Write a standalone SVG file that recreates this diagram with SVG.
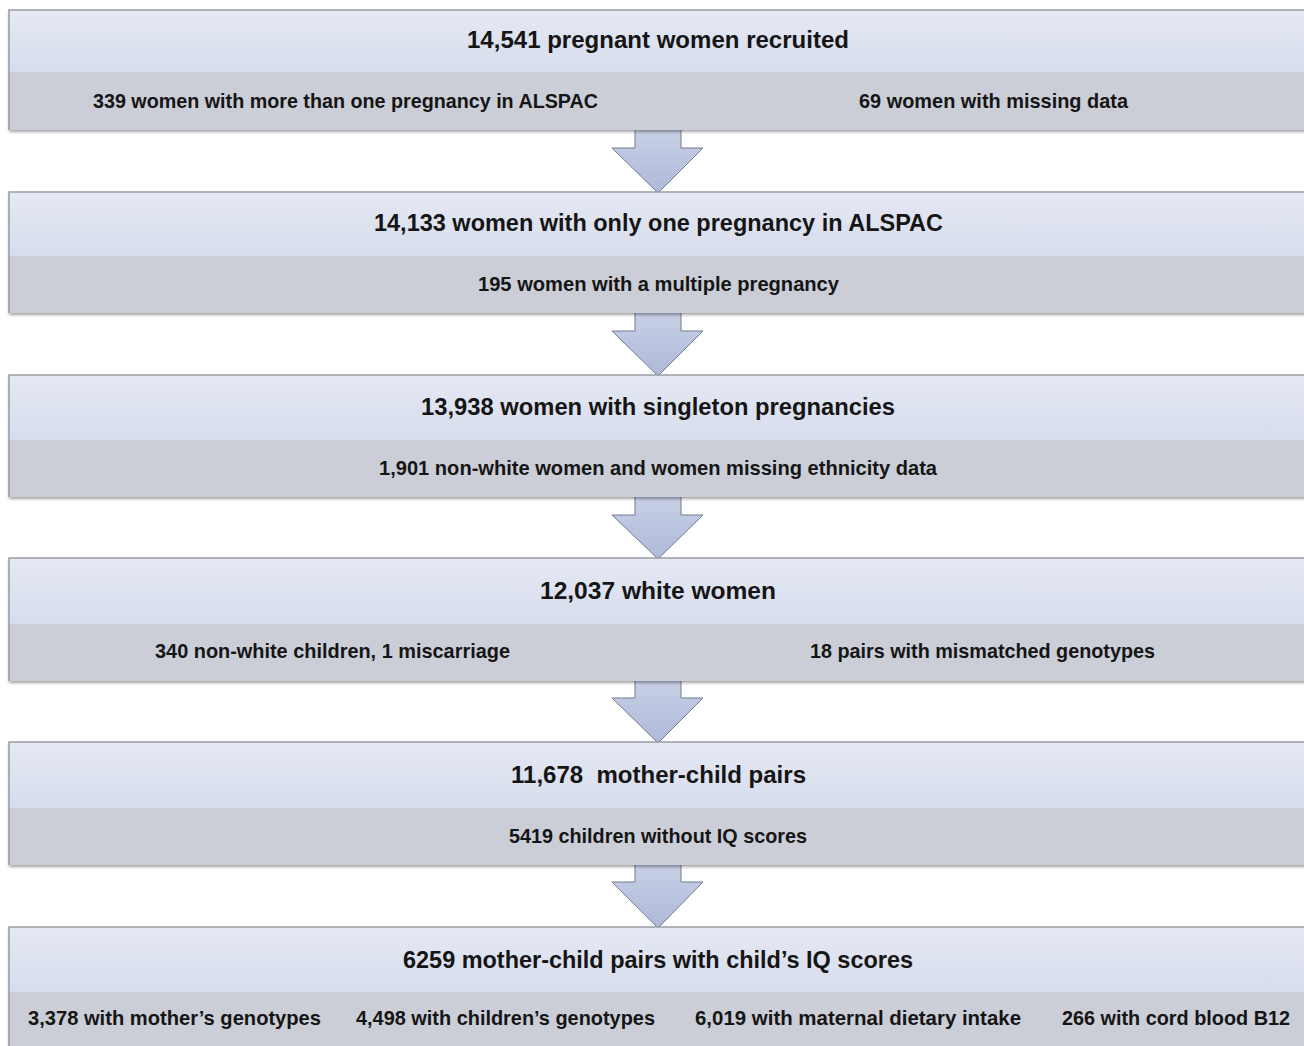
<svg xmlns="http://www.w3.org/2000/svg" width="1304" height="1046" viewBox="0 0 1304 1046">
<defs>
<linearGradient id="topg" x1="0" y1="0" x2="0" y2="1">
<stop offset="0" stop-color="#e5e9f3"/>
<stop offset="1" stop-color="#d7dced"/>
</linearGradient>
<linearGradient id="arrg" x1="0" y1="0" x2="0" y2="1">
<stop offset="0" stop-color="#c9d1e7"/>
<stop offset="1" stop-color="#aeb9d8"/>
</linearGradient>
<filter id="sh" x="-5%" y="-10%" width="110%" height="130%">
<feDropShadow dx="0" dy="2" stdDeviation="1.6" flood-color="#000" flood-opacity="0.35"/>
</filter>
</defs>
<style>
.top{fill:url(#topg);}
.bot{fill:#cbced7;}
.frame{fill:none;stroke:#9a9ca3;stroke-width:1.5;}
.arr{fill:url(#arrg);stroke:#737b90;stroke-width:1;}
text{font-family:"Liberation Sans",Arial,sans-serif;font-weight:bold;fill:#151515;}
.t{font-size:23.5px;}
.s{font-size:20.5px;}
</style>
<rect width="1304" height="1046" fill="#ffffff"/>
<g id="connectors">
<polygon class="arr" points="635,128 681,128 681,148 703,148 658,193 612,148 635,148"/>
<polygon class="arr" points="635,311 681,311 681,331 703,331 658,376 612,331 635,331"/>
<polygon class="arr" points="635,495 681,495 681,515 703,515 658,559 612,515 635,515"/>
<polygon class="arr" points="635,679 681,679 681,698 703,698 658,743 612,698 635,698"/>
<polygon class="arr" points="635,863 681,863 681,882 703,882 658,928 612,882 635,882"/>
</g>
<g id="box1">
<g filter="url(#sh)"><rect class="top" x="9" y="10" width="1305" height="62"/><rect class="bot" x="9" y="72" width="1305" height="58"/></g>
<path class="frame" d="M1310,10 H9 V130"/>
<text class="t" x="467" y="48" textLength="382" lengthAdjust="spacingAndGlyphs">14,541 pregnant women recruited</text>
<text class="s" x="93" y="108" textLength="505" lengthAdjust="spacingAndGlyphs">339 women with more than one pregnancy in ALSPAC</text>
<text class="s" x="859" y="108" textLength="269" lengthAdjust="spacingAndGlyphs">69 women with missing data</text>
</g>
<g id="box2">
<g filter="url(#sh)"><rect class="top" x="9" y="192" width="1305" height="64"/><rect class="bot" x="9" y="256" width="1305" height="57"/></g>
<path class="frame" d="M1310,192 H9 V313"/>
<text class="t" x="374" y="231" textLength="569" lengthAdjust="spacingAndGlyphs">14,133 women with only one pregnancy in ALSPAC</text>
<text class="s" x="478" y="291" textLength="361" lengthAdjust="spacingAndGlyphs">195 women with a multiple pregnancy</text>
</g>
<g id="box3">
<g filter="url(#sh)"><rect class="top" x="9" y="375" width="1305" height="65"/><rect class="bot" x="9" y="440" width="1305" height="57"/></g>
<path class="frame" d="M1310,375 H9 V497"/>
<text class="t" x="421" y="415" textLength="474" lengthAdjust="spacingAndGlyphs">13,938 women with singleton pregnancies</text>
<text class="s" x="379" y="475" textLength="558" lengthAdjust="spacingAndGlyphs">1,901 non-white women and women missing ethnicity data</text>
</g>
<g id="box4">
<g filter="url(#sh)"><rect class="top" x="9" y="558" width="1305" height="66"/><rect class="bot" x="9" y="624" width="1305" height="57"/></g>
<path class="frame" d="M1310,558 H9 V681"/>
<text class="t" x="540" y="599" textLength="236" lengthAdjust="spacingAndGlyphs">12,037 white women</text>
<text class="s" x="155" y="658" textLength="355" lengthAdjust="spacingAndGlyphs">340 non-white children, 1 miscarriage</text>
<text class="s" x="810" y="658" textLength="345" lengthAdjust="spacingAndGlyphs">18 pairs with mismatched genotypes</text>
</g>
<g id="box5">
<g filter="url(#sh)"><rect class="top" x="9" y="742" width="1305" height="66"/><rect class="bot" x="9" y="808" width="1305" height="57"/></g>
<path class="frame" d="M1310,742 H9 V865"/>
<text class="t" x="511" y="783" textLength="295" lengthAdjust="spacingAndGlyphs" xml:space="preserve">11,678  mother-child pairs</text>
<text class="s" x="509" y="843" textLength="298" lengthAdjust="spacingAndGlyphs">5419 children without IQ scores</text>
</g>
<g id="box6">
<g filter="url(#sh)"><rect class="top" x="9" y="927" width="1305" height="65"/><rect class="bot" x="9" y="992" width="1305" height="60"/></g>
<path class="frame" d="M1310,927 H9 V1050"/>
<text class="t" x="403" y="968" textLength="510" lengthAdjust="spacingAndGlyphs">6259 mother-child pairs with child’s IQ scores</text>
<text class="s" x="28" y="1025" textLength="293" lengthAdjust="spacingAndGlyphs">3,378 with mother’s genotypes</text>
<text class="s" x="356" y="1025" textLength="299" lengthAdjust="spacingAndGlyphs">4,498 with children’s genotypes</text>
<text class="s" x="695" y="1025" textLength="326" lengthAdjust="spacingAndGlyphs">6,019 with maternal dietary intake</text>
<text class="s" x="1062" y="1025" textLength="228" lengthAdjust="spacingAndGlyphs">266 with cord blood B12</text>
</g>
</svg>
